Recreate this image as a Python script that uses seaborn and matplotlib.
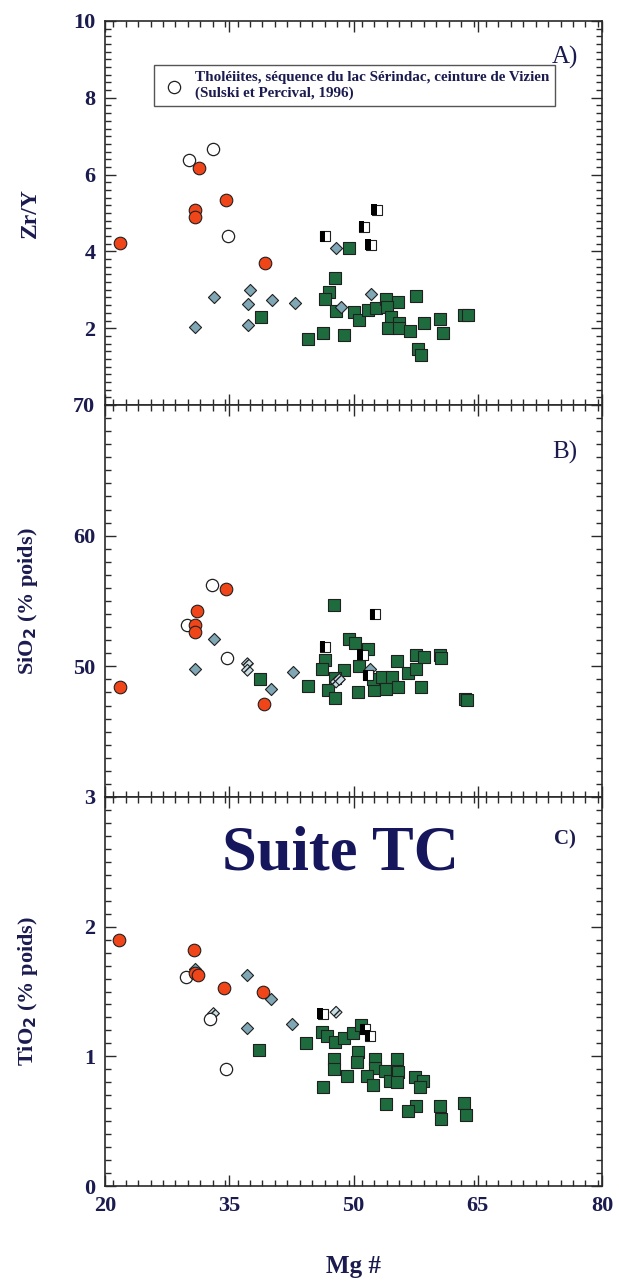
import matplotlib
matplotlib.use("Agg")
import matplotlib.pyplot as plt
from matplotlib.markers import MarkerStyle
from matplotlib.ticker import MultipleLocator
import seaborn as sns

# ---------------- data ----------------
# Panel A : Zr/Y vs Mg#
a_red_x = [21.8, 30.9, 30.9, 31.3, 34.6, 39.3]
a_red_y = [4.23, 5.08, 4.90, 6.16, 5.34, 3.71]
a_open_x = [30.1, 33.0, 34.8]
a_open_y = [6.38, 6.67, 4.40]
a_dia_x = [30.9, 33.2, 37.3, 37.5, 37.3, 40.2, 42.9, 47.9, 48.5, 52.1]
a_dia_y = [2.04, 2.80, 2.08, 2.99, 2.63, 2.73, 2.65, 4.08, 2.56, 2.88]
a_half_x = [46.6, 51.3, 52.1, 52.8]
a_half_y = [4.40, 4.64, 4.17, 5.08]
a_grn_x = [49.5, 47.8, 47.0, 46.6, 47.9, 38.8, 50.1, 50.7, 51.8, 52.7, 53.9, 55.4,
           54.1, 54.5, 55.5, 54.2, 55.5, 56.8, 57.5, 58.5, 60.5, 60.8, 63.3, 63.8,
           57.8, 58.2, 44.5, 46.3, 48.8]
a_grn_y = [4.10, 3.32, 2.93, 2.77, 2.46, 2.30, 2.43, 2.21, 2.47, 2.52, 2.76, 2.69,
           2.54, 2.30, 2.14, 2.00, 2.00, 1.93, 2.84, 2.14, 2.23, 1.87, 2.34, 2.34,
           1.45, 1.30, 1.72, 1.87, 1.82]

# Panel B : SiO2 vs Mg#
b_red_x = [34.6, 31.1, 30.9, 30.9, 21.8, 39.2]
b_red_y = [55.9, 54.2, 53.2, 52.6, 48.4, 47.1]
b_open_x = [32.9, 29.9, 34.7]
b_open_y = [56.2, 53.2, 50.6]
b_dia_x = [33.2, 30.9, 40.1, 42.7, 52.0]
b_dia_y = [52.1, 49.8, 48.3, 49.6, 49.8]
b_hat_x = [37.2, 37.2, 47.9, 48.3]
b_hat_y = [50.2, 49.7, 48.8, 49.0]
b_half_x = [52.6, 46.6, 51.1, 51.8]
b_half_y = [54.0, 51.5, 50.9, 49.3]
b_grn_x = [47.7, 49.4, 50.2, 51.7, 46.6, 46.2, 48.8, 50.7, 44.5, 47.8, 46.9, 47.8,
           50.5, 52.5, 52.4, 53.4, 54.6, 53.9, 55.4, 55.3, 56.6, 57.6, 57.6, 58.5,
           60.5, 60.6, 58.1, 63.5, 63.7, 38.7]
b_grn_y = [54.7, 52.1, 51.8, 51.3, 50.5, 49.8, 49.7, 50.0, 48.5, 49.1, 48.2, 47.6,
           48.0, 48.2, 49.0, 49.2, 49.2, 48.3, 48.4, 50.4, 49.5, 49.8, 50.9, 50.7,
           50.9, 50.6, 48.4, 47.5, 47.4, 49.0]

# Panel C : TiO2 vs Mg#
c_red_x = [21.7, 30.8, 30.9, 31.2, 34.4, 39.1]
c_red_y = [1.90, 1.82, 1.64, 1.63, 1.53, 1.50]
c_open_x = [29.8, 32.7, 34.6]
c_open_y = [1.61, 1.29, 0.90]
c_dia_x = [30.9, 37.2, 40.0, 37.1, 42.6]
c_dia_y = [1.67, 1.63, 1.44, 1.22, 1.25]
c_hat_x = [33.1, 47.9]
c_hat_y = [1.33, 1.34]
c_half_x = [46.3, 51.4, 52.0]
c_half_y = [1.33, 1.21, 1.16]
c_grn_x = [44.3, 46.2, 46.8, 47.8, 48.8, 49.9, 50.9, 50.6, 50.4, 47.6, 47.6, 49.2,
           46.3, 52.6, 52.6, 51.6, 52.4, 53.8, 54.4, 55.2, 55.4, 55.3, 57.4, 58.4,
           58.0, 53.9, 57.5, 56.6, 60.4, 60.6, 63.3, 63.6, 38.6]
c_grn_y = [1.10, 1.19, 1.16, 1.11, 1.14, 1.18, 1.24, 1.03, 0.96, 0.98, 0.90, 0.85,
           0.76, 0.98, 0.91, 0.85, 0.78, 0.89, 0.81, 0.98, 0.88, 0.80, 0.84, 0.81,
           0.76, 0.63, 0.62, 0.58, 0.62, 0.52, 0.64, 0.55, 1.05]

x_ticks = [20, 35, 50, 65, 80]
legend_label = "Tholéiites, séquence du lac Sérindac, ceinture de Vizien\n(Sulski et Percival, 1996)"

# ---------------- style ----------------
sns.set_theme(style="ticks")
plt.rcParams["font.family"] = ["Liberation Serif", "DejaVu Serif"]
plt.rcParams["font.weight"] = "bold"
NAVY = "#1b1b4f"
EDGE = "#202020"
RED = "#ef4518"
GREEN = "#1e6b3e"
BLUE = "#7fa7b6"
HATCHFACE = "#c9dde6"

fig = plt.figure(figsize=(6.19, 12.81), dpi=100)
left, width = 105 / 619, 497 / 619
def band(top_px, bot_px):
    return [left, 1 - bot_px / 1281, width, (bot_px - top_px) / 1281]

ax_a = fig.add_axes(band(21, 405))
ax_b = fig.add_axes(band(405, 797))
ax_c = fig.add_axes(band(797, 1186))


def draw_panel(ax, red, opn, dia, hat, half, grn, open_label=None):
    sns.scatterplot(x=grn[0], y=grn[1], ax=ax, marker="s", s=74, color=GREEN,
                    edgecolor=EDGE, linewidth=0.8, zorder=3)
    if hat is not None:
        sns.scatterplot(x=hat[0], y=hat[1], ax=ax, marker="D", s=36, color=HATCHFACE,
                        edgecolor=EDGE, linewidth=0.8, hatch="////", zorder=4)
    sns.scatterplot(x=dia[0], y=dia[1], ax=ax, marker="D", s=38, color=BLUE,
                    edgecolor=EDGE, linewidth=0.8, zorder=4)
    sns.scatterplot(x=half[0], y=half[1], ax=ax, marker="s", s=62, color="white",
                    edgecolor=EDGE, linewidth=0.8, zorder=5)
    sns.scatterplot(x=half[0], y=half[1], ax=ax, marker=MarkerStyle("s", fillstyle="left"),
                    s=62, color="black", edgecolor="none", linewidth=0, zorder=5)
    sns.scatterplot(x=opn[0], y=opn[1], ax=ax, marker="o", s=78, color="white",
                    edgecolor=EDGE, linewidth=0.9, zorder=6, label=open_label)
    sns.scatterplot(x=red[0], y=red[1], ax=ax, marker="o", s=82, color=RED,
                    edgecolor=EDGE, linewidth=0.8, zorder=6)


draw_panel(ax_a, (a_red_x, a_red_y), (a_open_x, a_open_y), (a_dia_x, a_dia_y), None,
           (a_half_x, a_half_y), (a_grn_x, a_grn_y), open_label=legend_label)
draw_panel(ax_b, (b_red_x, b_red_y), (b_open_x, b_open_y), (b_dia_x, b_dia_y),
           (b_hat_x, b_hat_y), (b_half_x, b_half_y), (b_grn_x, b_grn_y))
draw_panel(ax_c, (c_red_x, c_red_y), (c_open_x, c_open_y), (c_dia_x, c_dia_y),
           (c_hat_x, c_hat_y), (c_half_x, c_half_y), (c_grn_x, c_grn_y))

# axes limits, ticks
ax_a.set_ylim(0, 10)
ax_a.set_yticks([0, 2, 4, 6, 8, 10], ["", "2", "4", "6", "8", "10"])
ax_a.yaxis.set_minor_locator(MultipleLocator(0.2))
ax_b.set_ylim(40, 70)
ax_b.set_yticks([40, 50, 60, 70], ["", "50", "60", "70"])
ax_b.yaxis.set_minor_locator(MultipleLocator(1))
ax_c.set_ylim(0, 3)
ax_c.set_yticks([0, 1, 2, 3], ["0", "1", "2", "3"])
ax_c.yaxis.set_minor_locator(MultipleLocator(0.1))

for ax in (ax_a, ax_b, ax_c):
    ax.set_xlim(20, 80)
    ax.set_xticks(x_ticks)
    ax.xaxis.set_minor_locator(MultipleLocator(1.5))
    ax.tick_params(which="both", direction="in", top=True, right=True,
                   colors="#2a2a2a", labelcolor=NAVY, labelsize=16, width=1.0)
    ax.tick_params(which="major", length=8, pad=7)
    ax.tick_params(which="minor", length=4.5)
    for sp in ax.spines.values():
        sp.set_color("#2a2a2a")
        sp.set_linewidth(1.2)
    ax.set_xlabel("")
    for lab in ax.get_yticklabels() + ax.get_xticklabels():
        lab.set_fontweight("bold")
for ax in (ax_a, ax_b):
    ax.tick_params(axis="x", labelbottom=False)

ax_a.set_ylabel("Zr/Y", fontsize=17, color=NAVY, fontweight="bold")
ax_b.set_ylabel("SiO$_\\mathbf{2}$ (% poids)", fontsize=16, color=NAVY, fontweight="bold")
ax_c.set_ylabel("TiO$_\\mathbf{2}$ (% poids)", fontsize=16, color=NAVY, fontweight="bold")
for ax in (ax_a, ax_b, ax_c):
    ax.yaxis.set_label_coords(-0.13, 0.5)
ax_c.set_xlabel("Mg #", fontsize=18, color=NAVY, fontweight="bold", labelpad=28)

# panel tags
ax_a.text(0.925, 0.905, "A)", transform=ax_a.transAxes, fontsize=18, fontweight="normal",
          color=NAVY, ha="center", va="center")
ax_b.text(0.925, 0.88, "B)", transform=ax_b.transAxes, fontsize=18, fontweight="normal",
          color=NAVY, ha="center", va="center")
ax_c.text(0.925, 0.89, "C)", transform=ax_c.transAxes, fontsize=15, fontweight="bold",
          color=NAVY, ha="center", va="center")
ax_c.text(0.473, 0.852, "Suite TC", transform=ax_c.transAxes, fontsize=45, fontweight="bold",
          color="#16165c", ha="center", va="center")

# legend
leg = ax_a.legend(loc="upper left", bbox_to_anchor=(0.0986, 0.885), borderaxespad=0,
                  frameon=True, fancybox=False, fontsize=10.9, handletextpad=0.5,
                  borderpad=0.4, handlelength=1.8, labelcolor=NAVY)
leg.get_frame().set_edgecolor("#2a2a2a")
leg.get_frame().set_linewidth(1.0)
for t in leg.get_texts():
    t.set_fontweight("bold")

fig.savefig("out.png", dpi=100, facecolor="white")
